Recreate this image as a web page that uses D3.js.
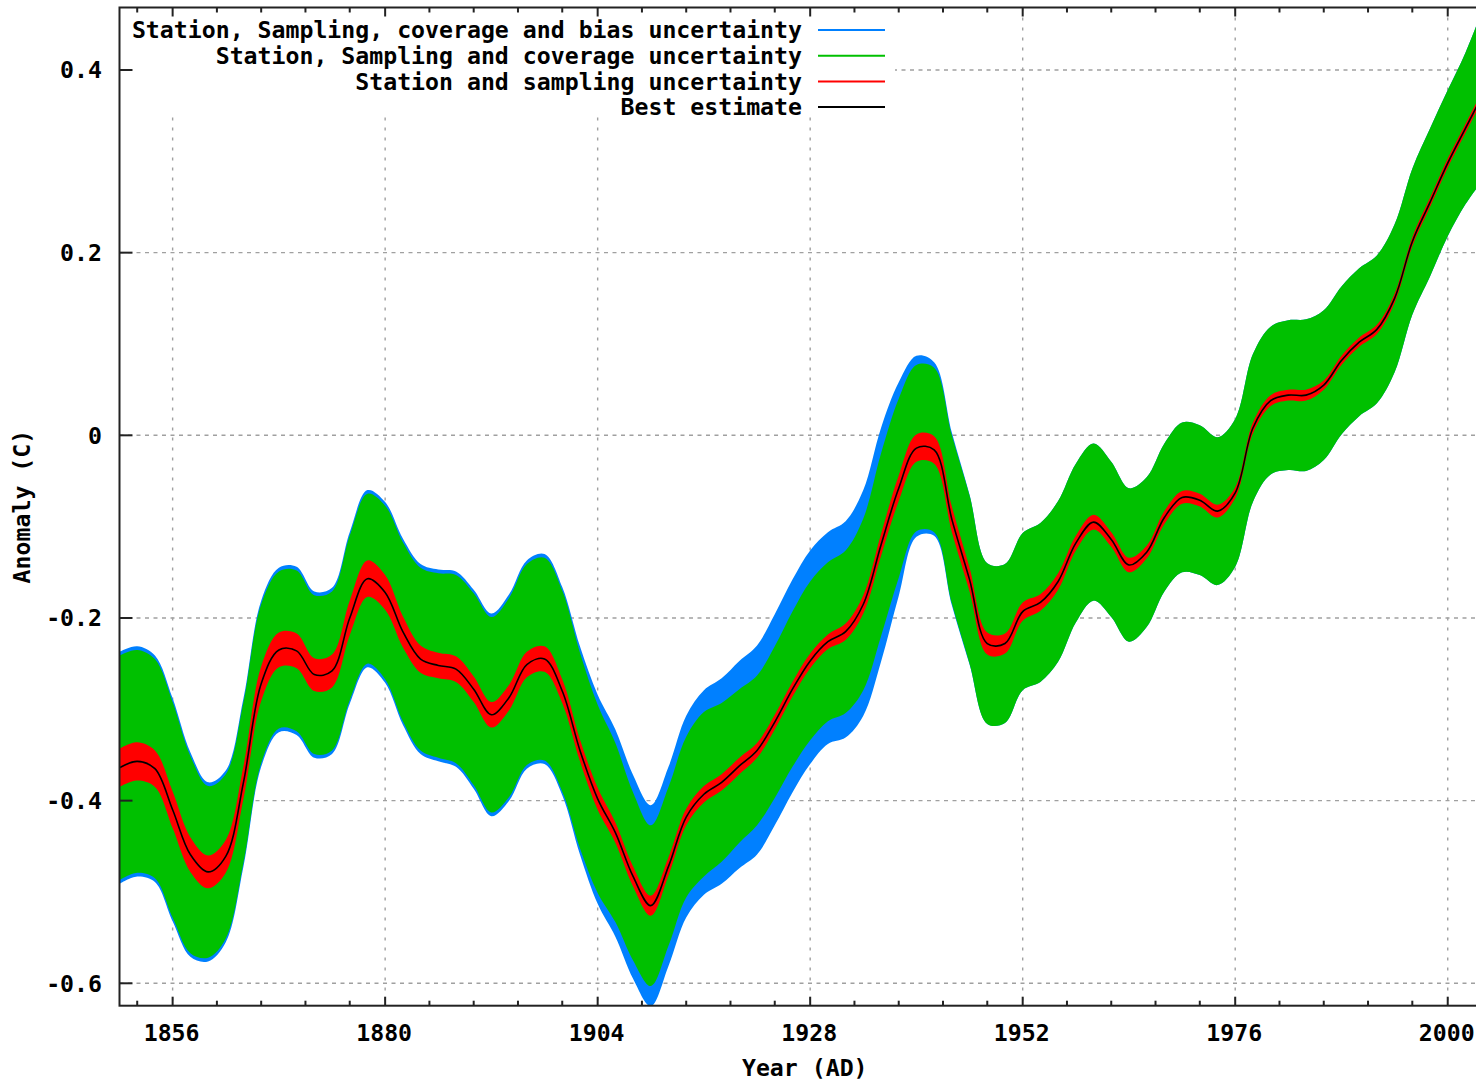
<!DOCTYPE html>
<html><head><meta charset="utf-8">
<script src="https://cdn.jsdelivr.net/npm/d3@7/dist/d3.min.js"></script>
<style>body{margin:0;background:#fff}svg{display:block}</style>
</head><body>
<svg id="chart" width="1476" height="1082"></svg>
<script>
// ---------------- data ----------------
const years = [1850,1852,1854,1856,1858,1860,1862,1864,1866,1868,1870,1872,1874,1876,1878,1880,1882,1884,1886,1888,
  1890,1892,1894,1896,1898,1900,1902,1904,1906,1908,1910,1912,1914,1916,1918,1920,1922,1924,1926,1928,
  1930,1932,1934,1936,1938,1940,1942,1944,1946,1948,1950,1952,1954,1956,1958,1960,1962,1964,1966,1968,
  1970,1972,1974,1976,1978,1980,1982,1984,1986,1988,1990,1992,1994,1996,1998,2000,2002,2004];
const bestEstimate = [-0.364,-0.357,-0.365,-0.410,-0.459,-0.478,-0.461,-0.380,-0.272,-0.235,-0.236,-0.262,-0.258,-0.200,-0.157,-0.172,-0.215,-0.245,-0.252,-0.256,
  -0.278,-0.306,-0.287,-0.251,-0.245,-0.280,-0.345,-0.398,-0.435,-0.483,-0.515,-0.472,-0.418,-0.393,-0.380,-0.362,-0.345,-0.314,-0.278,-0.247,
  -0.226,-0.215,-0.185,-0.120,-0.058,-0.014,-0.016,-0.092,-0.158,-0.228,-0.228,-0.193,-0.183,-0.160,-0.118,-0.095,-0.114,-0.142,-0.128,-0.090,
  -0.068,-0.071,-0.083,-0.063,0.008,0.038,0.044,0.044,0.055,0.082,0.102,0.116,0.150,0.212,0.255,0.298,0.336,0.374];
// half-width of the station + sampling band (red)
const samplingHalf = [0.021,0.021,0.020,0.020,0.019,0.018,0.018,0.018,0.019,0.019,0.019,0.018,0.018,0.019,0.020,0.019,0.017,0.015,0.014,0.014,
  0.014,0.014,0.014,0.014,0.014,0.013,0.012,0.012,0.011,0.011,0.011,0.010,0.009,0.009,0.009,0.009,0.008,0.008,0.008,0.008,
  0.008,0.009,0.010,0.012,0.014,0.015,0.015,0.014,0.013,0.012,0.011,0.010,0.009,0.009,0.008,0.008,0.008,0.008,0.007,0.007,
  0.007,0.007,0.007,0.006,0.006,0.006,0.006,0.006,0.005,0.005,0.005,0.005,0.005,0.005,0.005,0.005,0.005,0.005];
// half-width of the station + sampling + coverage band (green)
const coverageHalf = [0.123,0.122,0.120,0.118,0.108,0.094,0.090,0.088,0.087,0.086,0.088,0.087,0.087,0.090,0.093,0.095,0.098,0.100,0.101,0.103,
  0.105,0.107,0.109,0.110,0.111,0.110,0.107,0.103,0.098,0.092,0.088,0.087,0.088,0.090,0.087,0.084,0.082,0.083,0.085,0.087,
  0.087,0.089,0.094,0.100,0.098,0.091,0.090,0.092,0.092,0.088,0.087,0.086,0.087,0.088,0.087,0.086,0.085,0.084,0.082,0.081,
  0.082,0.082,0.081,0.081,0.081,0.081,0.082,0.083,0.082,0.081,0.081,0.081,0.081,0.080,0.081,0.080,0.083,0.094];
// extra bias uncertainty above / below the green band (blue)
const biasUpper = [0.004,0.004,0.004,0.004,0.004,0.004,0.004,0.004,0.004,0.004,0.004,0.004,0.004,0.004,0.004,0.004,0.004,0.004,0.004,0.004,
  0.004,0.004,0.004,0.004,0.004,0.004,0.007,0.011,0.015,0.019,0.022,0.022,0.023,0.024,0.027,0.031,0.033,0.035,0.035,0.034,
  0.033,0.032,0.031,0.028,0.018,0.010,0.006,0.003,0.001,0,0,0,0,0,0,0,0,0,0,0,
  0,0,0,0,0,0,0,0,0,0,0,0,0,0,0,0,0,0];
const biasLower = [0.004,0.004,0.004,0.004,0.004,0.004,0.004,0.004,0.004,0.004,0.004,0.004,0.004,0.004,0.004,0.004,0.004,0.004,0.004,0.004,
  0.004,0.004,0.004,0.004,0.004,0.004,0.007,0.012,0.016,0.020,0.022,0.022,0.022,0.020,0.024,0.028,0.032,0.030,0.028,0.026,
  0.025,0.027,0.028,0.028,0.020,0.006,0.004,0.002,0.001,0,0,0,0,0,0,0,0,0,0,0,
  0,0,0,0,0,0,0,0,0,0,0,0,0,0,0,0,0,0];

const xTickValues = [1856,1880,1904,1928,1952,1976,2000];
const xTickLabels = ["1856","1880","1904","1928","1952","1976","2000"];
const xMinorOffsets = [5,10,15,20];
const yTickValues = [0.4,0.2,0,-0.2,-0.4,-0.6];
const yTickLabels = ["0.4","0.2","0","-0.2","-0.4","-0.6"];
const legendLabels = ["Station, Sampling, coverage and bias uncertainty",
  "Station, Sampling and coverage uncertainty",
  "Station and sampling uncertainty",
  "Best estimate"];
const seriesColors = ["#0080ff","#00c000","#ff0000","#000000"];
const xAxisTitle = "Year (AD)";
const yAxisTitle = "Anomaly (C)";

// ---------------- layout ----------------
const W = 1476, H = 1082;
const PL = 119.5, PR = 1492, PT = 7.5, PB = 1005.7;
const FONT = "'DejaVu Sans Mono', 'Liberation Mono', monospace";
const FS = 23.2;

const x = d3.scaleLinear().domain([1850, 2005]).range([PL, PR]);
const y = d3.scaleLinear().domain([-0.6, 0.4]).range([983.3, 70]);

const rows = years.map((yr, i) => ({
  year: yr, best: bestEstimate[i], s: samplingHalf[i], c: coverageHalf[i],
  bu: biasUpper[i], bl: biasLower[i]
}));

const svg = d3.select("#chart");
svg.append("rect").attr("width", W).attr("height", H).attr("fill", "#fff");

svg.append("defs").append("clipPath").attr("id", "plotClip")
  .append("rect").attr("x", PL).attr("y", PT).attr("width", PR - PL).attr("height", PB - PT);

// grid
const grid = svg.append("g").attr("stroke", "#a0a0a0").attr("stroke-width", 1.4).attr("fill", "none");
grid.selectAll("line.h").data(yTickValues).join("line").attr("class", "h")
  .attr("x1", PL).attr("x2", PR).attr("y1", d => y(d)).attr("y2", d => y(d))
  .attr("stroke-dasharray", "4,4.5");
grid.selectAll("line.v").data(xTickValues).join("line").attr("class", "v")
  .attr("x1", d => x(d)).attr("x2", d => x(d)).attr("y1", PT).attr("y2", PB)
  .attr("stroke-dasharray", "3,7");

// opaque key box
const legendBox = {x0: PL + 1, x1: 895, y0: PT + 1, y1: 117};
svg.append("rect").attr("x", legendBox.x0).attr("y", legendBox.y0)
  .attr("width", legendBox.x1 - legendBox.x0).attr("height", legendBox.y1 - legendBox.y0).attr("fill", "#fff");

// bands
const curve = d3.curveCatmullRom.alpha(0.5);
const plot = svg.append("g").attr("clip-path", "url(#plotClip)");
const band = (lo, hi) => d3.area().x(d => x(d.year)).y0(d => y(lo(d))).y1(d => y(hi(d))).curve(curve);

plot.append("path").datum(rows).attr("fill", seriesColors[0])
  .attr("d", band(d => d.best - d.c - d.bl, d => d.best + d.c + d.bu));
plot.append("path").datum(rows).attr("fill", seriesColors[1])
  .attr("d", band(d => d.best - d.c, d => d.best + d.c));
plot.append("path").datum(rows).attr("fill", seriesColors[2])
  .attr("d", band(d => d.best - d.s, d => d.best + d.s));
plot.append("path").datum(rows).attr("fill", "none").attr("stroke", seriesColors[3]).attr("stroke-width", 1.6)
  .attr("d", d3.line().x(d => x(d.year)).y(d => y(d.best)).curve(curve));

// frame
svg.append("rect").attr("x", PL).attr("y", PT).attr("width", PR - PL).attr("height", PB - PT)
  .attr("fill", "none").attr("stroke", "#222").attr("stroke-width", 2);

// ticks
const majorLen = 9, minorLen = 5, yTickLen = 13;
const minorTicks = [1832].concat(xTickValues).flatMap(m => xMinorOffsets.map(o => m + o))
  .filter(v => x(v) > PL + 1 && x(v) < PR - 1);
const ticks = svg.append("g").attr("stroke", "#222").attr("stroke-width", 2);
xTickValues.forEach(v => {
  ticks.append("line").attr("x1", x(v)).attr("x2", x(v)).attr("y1", PB).attr("y2", PB - majorLen);
  ticks.append("line").attr("x1", x(v)).attr("x2", x(v)).attr("y1", PT).attr("y2", PT + majorLen);
});
minorTicks.forEach(v => {
  ticks.append("line").attr("x1", x(v)).attr("x2", x(v)).attr("y1", PB).attr("y2", PB - minorLen);
  ticks.append("line").attr("x1", x(v)).attr("x2", x(v)).attr("y1", PT).attr("y2", PT + minorLen);
});
yTickValues.forEach(v => {
  ticks.append("line").attr("x1", PL).attr("x2", PL + yTickLen).attr("y1", y(v)).attr("y2", y(v));
  ticks.append("line").attr("x1", PR).attr("x2", PR - yTickLen).attr("y1", y(v)).attr("y2", y(v));
});

// tick labels
const txt = svg.append("g").attr("font-family", FONT).attr("font-weight", "bold")
  .attr("font-size", FS).attr("fill", "#000");
txt.selectAll("text.yl").data(yTickValues).join("text").attr("class", "yl")
  .attr("x", 102).attr("y", d => y(d)).attr("dy", "0.36em").attr("text-anchor", "end")
  .text((d, i) => yTickLabels[i]);
txt.selectAll("text.xl").data(xTickValues).join("text").attr("class", "xl")
  .attr("x", d => x(d) - 1).attr("y", 1033).attr("dy", "0.36em").attr("text-anchor", "middle")
  .text((d, i) => xTickLabels[i]);

// axis titles
txt.append("text").attr("x", (PL + PR) / 2 - 1).attr("y", 1068).attr("dy", "0.36em")
  .attr("text-anchor", "middle").text(xAxisTitle);
txt.append("text").attr("transform", `translate(22,${(PT + PB) / 2}) rotate(-90)`)
  .attr("dy", "0.36em").attr("text-anchor", "middle").text(yAxisTitle);

// legend
const legY = [30, 55.7, 81.4, 107.1];
legendLabels.forEach((lab, i) => {
  txt.append("text").attr("x", 802).attr("y", legY[i]).attr("dy", "0.36em")
    .attr("text-anchor", "end").text(lab);
  svg.append("line").attr("x1", 818).attr("x2", 885).attr("y1", legY[i]).attr("y2", legY[i])
    .attr("stroke", seriesColors[i]).attr("stroke-width", 2);
});
</script>
</body></html>
